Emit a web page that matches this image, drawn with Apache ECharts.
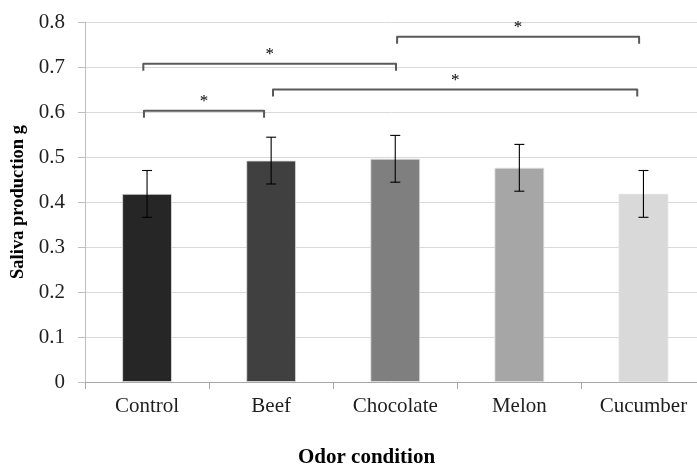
<!DOCTYPE html>
<html>
<head>
<meta charset="utf-8">
<script src="https://cdn.jsdelivr.net/npm/echarts@6/dist/echarts.min.js"></script>
<style>html,body{margin:0;padding:0;background:#fff;}#c{width:697px;height:469px;}</style>
</head>
<body>
<div id="c"></div>
<script>
var categories = ['Control', 'Beef', 'Chocolate', 'Melon', 'Cucumber'];
var means = [0.418, 0.492, 0.496, 0.476, 0.418];
var errors = [0.052, 0.052, 0.052, 0.052, 0.052];
var barColors = ['#262626', '#404040', '#7f7f7f', '#a6a6a6', '#d9d9d9'];
var yTicks = [0, 0.1, 0.2, 0.3, 0.4, 0.5, 0.6, 0.7, 0.8];
// significance brackets: [fromIndex, toIndex, level, fromShift, toShift] (shifts in category widths)
var brackets = [
  [0, 1, 0.603, -0.025, -0.057],
  [0, 2, 0.707, -0.030, 0.006],
  [1, 4, 0.650, 0.015, -0.050],
  [2, 4, 0.767, 0.015, -0.035]
];
var sigLabel = '*';
var xTitle = 'Odor condition';
var yTitle = 'Saliva production g';

var serif = '"Liberation Serif", "Times New Roman", serif';
var chart = echarts.init(document.getElementById('c'), null, {renderer: 'canvas'});

var errData = means.map(function (m, i) { return [i, m - errors[i], m + errors[i]]; });

chart.setOption({
  animation: false,
  backgroundColor: '#ffffff',
  grid: {left: 85, top: 22, right: -8.5, bottom: 87, containLabel: false, outerBoundsMode: 'none'},
  graphic: [
    {type: 'text', left: 370 - 72, top: 447, style: {text: xTitle, fontFamily: serif, fontWeight: 'bold', fontSize: 21, fill: '#000'}}
  ],
  xAxis: {
    type: 'category',
    data: categories,
    axisLine: {lineStyle: {color: '#a6a6a6', width: 1}},
    axisTick: {show: true, alignWithLabel: false, length: 7, lineStyle: {color: '#a6a6a6'}},
    axisLabel: {fontFamily: serif, fontSize: 21, color: '#1f1f1f', margin: 14}
  },
  yAxis: {
    type: 'value',
    min: 0, max: 0.8, interval: 0.1,
    name: yTitle,
    nameLocation: 'middle',
    nameGap: 53,
    nameTextStyle: {fontFamily: serif, fontWeight: 'bold', fontSize: 18.5, color: '#000'},
    axisLine: {show: true, lineStyle: {color: '#bfbfbf', width: 1}},
    axisTick: {show: true, length: 7, lineStyle: {color: '#bfbfbf'}},
    axisLabel: {fontFamily: serif, fontSize: 21, color: '#1f1f1f', margin: 20,
      formatter: function (v) { return String(Math.round(v * 10) / 10); }},
    splitLine: {lineStyle: {color: '#d9d9d9', width: 1}}
  },
  series: [
    {
      type: 'bar',
      barWidth: '40%',
      data: means.map(function (m, i) {
        return {value: m, itemStyle: {color: barColors[i], borderColor: '#e0e0e0', borderWidth: 0.8}};
      }),
      z: 2
    },
    {
      type: 'custom',
      z: 5,
      data: errData,
      renderItem: function (params, api) {
        var x = api.value(0);
        var lo = api.coord([x, api.value(1)]);
        var hi = api.coord([x, api.value(2)]);
        var cx = lo[0];
        var half = 5;
        var st = {stroke: '#000', lineWidth: 1.1};
        return {
          type: 'group',
          children: [
            {type: 'line', shape: {x1: cx, y1: lo[1], x2: cx, y2: hi[1]}, style: st},
            {type: 'line', shape: {x1: cx - half, y1: lo[1], x2: cx + half, y2: lo[1]}, style: st},
            {type: 'line', shape: {x1: cx - half, y1: hi[1], x2: cx + half, y2: hi[1]}, style: st}
          ]
        };
      }
    },
    {
      type: 'custom',
      z: 6,
      data: brackets,
      renderItem: function (params, api) {
        var a = api.value(0), b = api.value(1), lvl = api.value(2);
        var cw = api.size([1, 0])[0];
        var p1 = api.coord([a, lvl]);
        var p2 = api.coord([b, lvl]);
        var x1 = p1[0] + api.value(3) * cw;
        var x2 = p2[0] + api.value(4) * cw;
        var y = p1[1];
        var drop = 7;
        var st = {stroke: '#595959', lineWidth: 2, fill: null, lineJoin: 'round'};
        return {
          type: 'group',
          children: [
            {type: 'polyline', shape: {points: [[x1, y + drop], [x1, y], [x2, y], [x2, y + drop]]}, style: st},
            {type: 'text', style: {text: sigLabel, x: (x1 + x2) / 2, y: y - 9, align: 'center', verticalAlign: 'middle',
              fontFamily: serif, fontSize: 17, fill: '#000'}}
          ]
        };
      }
    }
  ]
});
</script>
</body>
</html>
